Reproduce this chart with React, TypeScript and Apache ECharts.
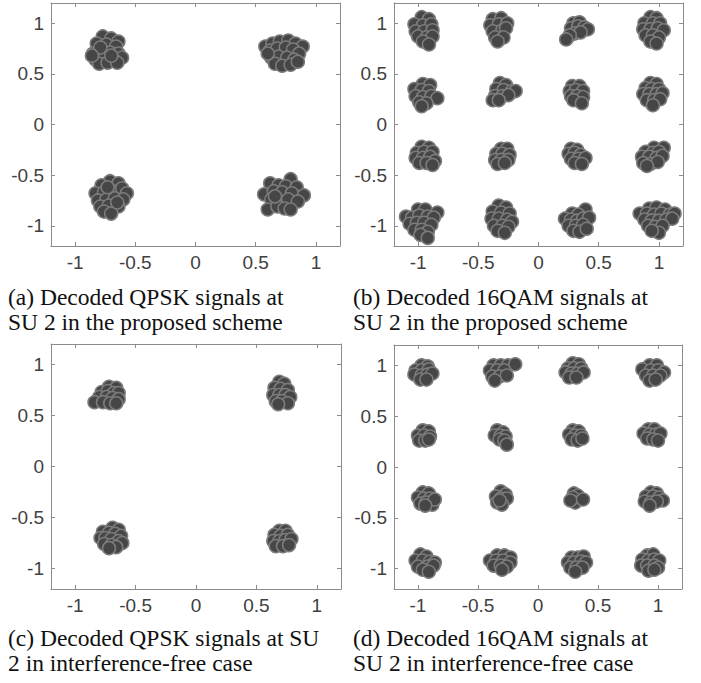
import React, { useEffect, useRef } from "react";
import * as echarts from "echarts";

const TICKS = [-1, -0.5, 0, 0.5, 1];

// (a) QPSK, proposed scheme
const qpskProposed: number[][] = [
  [-0.77, 0.87], [-0.70, 0.85], [-0.64, 0.82], [-0.82, 0.80], [-0.74, 0.79], [-0.66, 0.77], [-0.85, 0.70],
  [-0.78, 0.72], [-0.71, 0.71], [-0.64, 0.70], [-0.61, 0.66], [-0.83, 0.64], [-0.76, 0.65], [-0.68, 0.64],
  [-0.80, 0.60], [-0.73, 0.61], [-0.65, 0.61], [-0.70, 0.68], [-0.79, 0.76], [-0.86, 0.68],
  [0.58, 0.77], [0.64, 0.80], [0.70, 0.82], [0.77, 0.83], [0.83, 0.80], [0.89, 0.77], [0.62, 0.73],
  [0.68, 0.75], [0.75, 0.76], [0.81, 0.74], [0.86, 0.70], [0.63, 0.66], [0.69, 0.67], [0.76, 0.66],
  [0.82, 0.64], [0.66, 0.60], [0.72, 0.58], [0.79, 0.59], [0.85, 0.62], [0.60, 0.70],
  [-0.71, -0.56], [-0.64, -0.58], [-0.78, -0.60], [-0.83, -0.68], [-0.76, -0.67], [-0.69, -0.66], [-0.61, -0.63],
  [-0.57, -0.68], [-0.81, -0.75], [-0.74, -0.74], [-0.67, -0.73], [-0.60, -0.74], [-0.79, -0.81], [-0.72, -0.80],
  [-0.64, -0.81], [-0.76, -0.86], [-0.70, -0.88], [-0.65, -0.77], [-0.73, -0.62],
  [0.79, -0.54], [0.62, -0.58], [0.69, -0.60], [0.75, -0.61], [0.84, -0.62], [0.57, -0.69], [0.65, -0.66],
  [0.72, -0.67], [0.80, -0.68], [0.90, -0.70], [0.63, -0.74], [0.70, -0.76], [0.77, -0.74], [0.85, -0.76],
  [0.60, -0.84], [0.68, -0.81], [0.74, -0.83], [0.79, -0.84], [0.66, -0.71],
];

// (b) 16QAM, proposed scheme
const qam16Proposed: number[][] = [
  [-0.97, 1.06], [-0.91, 1.04], [-1.03, 0.99], [-0.96, 0.98], [-0.89, 0.99], [-1.02, 0.92], [-0.95, 0.92],
  [-0.88, 0.93], [-1.00, 0.87], [-0.93, 0.86], [-0.88, 0.87], [-0.96, 0.82], [-0.91, 0.79],
  [-0.38, 1.04], [-0.31, 1.05], [-0.40, 0.98], [-0.33, 0.99], [-0.26, 1.00], [-0.38, 0.92], [-0.30, 0.93],
  [-0.27, 0.95], [-0.36, 0.86], [-0.29, 0.86], [-0.34, 0.82],
  [0.29, 1.00], [0.34, 1.01], [0.27, 0.95], [0.33, 0.97], [0.38, 0.96], [0.41, 0.94], [0.30, 0.90],
  [0.35, 0.91], [0.26, 0.88], [0.23, 0.84],
  [0.93, 1.06], [0.98, 1.05], [0.88, 1.00], [0.95, 1.00], [1.01, 1.00], [0.87, 0.94], [0.93, 0.94],
  [0.99, 0.95], [1.04, 0.93], [0.89, 0.88], [0.95, 0.88], [1.00, 0.86], [0.93, 0.82], [0.98, 0.80],
  [-0.96, 0.40], [-0.90, 0.39], [-1.03, 0.35], [-0.97, 0.34], [-0.91, 0.33], [-1.02, 0.28], [-0.96, 0.27],
  [-0.89, 0.28], [-0.84, 0.26], [-0.99, 0.22], [-0.93, 0.21], [-0.97, 0.18],
  [-0.32, 0.41], [-0.27, 0.39], [-0.35, 0.35], [-0.29, 0.34], [-0.22, 0.33], [-0.19, 0.33], [-0.36, 0.28],
  [-0.30, 0.28], [-0.25, 0.29], [-0.38, 0.24], [-0.33, 0.24],
  [0.28, 0.38], [0.34, 0.38], [0.26, 0.33], [0.31, 0.34], [0.37, 0.33], [0.27, 0.28], [0.32, 0.28],
  [0.37, 0.27], [0.29, 0.24], [0.36, 0.21],
  [0.93, 0.41], [0.98, 0.40], [0.89, 0.36], [0.94, 0.35], [1.00, 0.35], [0.87, 0.30], [0.92, 0.30],
  [0.98, 0.30], [1.03, 0.31], [0.90, 0.24], [0.96, 0.24], [1.01, 0.25], [0.95, 0.19],
  [-0.97, -0.22], [-0.91, -0.23], [-1.01, -0.28], [-0.95, -0.27], [-0.88, -0.27], [-1.02, -0.33], [-0.96, -0.33],
  [-0.90, -0.32], [-0.86, -0.36], [-0.99, -0.38], [-0.93, -0.38], [-0.88, -0.40],
  [-0.31, -0.24], [-0.26, -0.24], [-0.35, -0.29], [-0.30, -0.29], [-0.24, -0.30], [-0.36, -0.35], [-0.31, -0.35],
  [-0.25, -0.35], [-0.34, -0.39], [-0.28, -0.38],
  [0.27, -0.24], [0.32, -0.25], [0.25, -0.29], [0.30, -0.28], [0.35, -0.30], [0.27, -0.34], [0.33, -0.34],
  [0.39, -0.33], [0.30, -0.38], [0.36, -0.39],
  [0.96, -0.23], [1.04, -0.23], [0.89, -0.27], [0.95, -0.28], [1.00, -0.27], [0.86, -0.32], [0.92, -0.32],
  [0.98, -0.33], [1.03, -0.31], [0.87, -0.38], [0.93, -0.39], [0.99, -0.37], [0.90, -0.41],
  [-1.00, -0.84], [-0.94, -0.84], [-0.84, -0.87], [-1.10, -0.91], [-1.05, -0.92], [-0.99, -0.90], [-0.92, -0.91],
  [-0.87, -0.92], [-1.07, -0.98], [-1.01, -0.97], [-0.95, -0.97], [-0.89, -0.99], [-1.03, -1.04], [-0.97, -1.04],
  [-0.92, -1.06], [-0.98, -1.09], [-0.92, -1.12],
  [-0.33, -0.80], [-0.27, -0.82], [-0.38, -0.86], [-0.31, -0.87], [-0.24, -0.88], [-0.39, -0.93], [-0.33, -0.93],
  [-0.26, -0.94], [-0.22, -0.96], [-0.37, -1.00], [-0.30, -1.00], [-0.25, -1.01], [-0.34, -1.05], [-0.28, -1.07],
  [0.39, -0.84], [0.28, -0.88], [0.33, -0.89], [0.22, -0.93], [0.27, -0.94], [0.32, -0.95], [0.37, -0.93],
  [0.42, -0.92], [0.25, -1.00], [0.31, -1.00], [0.37, -0.99], [0.29, -1.05], [0.34, -1.06], [0.40, -1.03],
  [0.92, -0.83], [0.98, -0.82], [1.05, -0.84], [0.84, -0.88], [0.90, -0.88], [0.96, -0.89], [1.02, -0.88],
  [1.09, -0.89], [1.13, -0.88], [0.88, -0.94], [0.94, -0.95], [1.00, -0.95], [1.06, -0.94], [1.11, -0.93],
  [0.91, -1.00], [0.97, -1.01], [1.03, -1.00], [1.00, -1.07], [0.94, -1.05],
];

// (c) QPSK, interference-free
const qpskFree: number[][] = [
  [-0.72, 0.78], [-0.66, 0.77], [-0.78, 0.73], [-0.73, 0.74], [-0.68, 0.72], [-0.64, 0.72], [-0.80, 0.68],
  [-0.74, 0.68], [-0.69, 0.67], [-0.64, 0.66], [-0.84, 0.63], [-0.77, 0.63], [-0.71, 0.62], [-0.66, 0.62],
  [0.69, 0.83], [0.73, 0.81], [0.65, 0.77], [0.70, 0.76], [0.76, 0.75], [0.64, 0.70], [0.69, 0.70],
  [0.74, 0.70], [0.78, 0.68], [0.66, 0.64], [0.71, 0.64], [0.76, 0.62], [0.68, 0.61],
  [-0.69, -0.60], [-0.64, -0.62], [-0.77, -0.64], [-0.72, -0.65], [-0.67, -0.66], [-0.62, -0.68], [-0.79, -0.70],
  [-0.75, -0.70], [-0.70, -0.71], [-0.64, -0.73], [-0.61, -0.75], [-0.76, -0.76], [-0.70, -0.77], [-0.66, -0.79],
  [-0.72, -0.80],
  [0.69, -0.63], [0.74, -0.63], [0.65, -0.67], [0.70, -0.68], [0.76, -0.67], [0.64, -0.73], [0.69, -0.73],
  [0.74, -0.72], [0.79, -0.71], [0.66, -0.78], [0.72, -0.78], [0.77, -0.77],
];

// (d) 16QAM, interference-free
const qam16Free: number[][] = [
  [-0.97, 1.00], [-0.92, 0.99], [-1.02, 0.95], [-0.97, 0.95], [-0.91, 0.96], [-1.03, 0.91], [-0.97, 0.90],
  [-0.92, 0.91], [-0.88, 0.92], [-0.98, 0.86], [-0.93, 0.86],
  [-0.37, 1.00], [-0.31, 1.00], [-0.25, 1.00], [-0.19, 1.01], [-0.40, 0.95], [-0.34, 0.95], [-0.28, 0.95],
  [-0.38, 0.89], [-0.32, 0.89], [-0.26, 0.90], [-0.36, 0.85],
  [0.29, 1.02], [0.34, 1.01], [0.25, 0.97], [0.30, 0.97], [0.36, 0.97], [0.23, 0.93], [0.28, 0.92],
  [0.33, 0.92], [0.38, 0.93], [0.26, 0.88], [0.32, 0.88],
  [0.93, 1.00], [0.99, 1.00], [0.87, 0.96], [0.94, 0.95], [1.00, 0.95], [1.05, 0.93], [0.90, 0.90],
  [0.96, 0.90], [1.02, 0.90], [0.93, 0.85], [0.98, 0.86],
  [-0.96, 0.36], [-0.91, 0.35], [-1.00, 0.31], [-0.95, 0.31], [-0.90, 0.30], [-0.99, 0.26], [-0.94, 0.26],
  [-0.91, 0.27],
  [-0.34, 0.36], [-0.29, 0.34], [-0.36, 0.31], [-0.31, 0.31], [-0.27, 0.30], [-0.32, 0.27], [-0.28, 0.26],
  [-0.26, 0.22],
  [0.29, 0.36], [0.34, 0.35], [0.26, 0.32], [0.31, 0.31], [0.36, 0.31], [0.28, 0.27], [0.33, 0.26],
  [0.37, 0.28],
  [0.92, 0.37], [0.97, 0.37], [0.88, 0.33], [0.93, 0.32], [0.98, 0.32], [1.02, 0.33], [0.91, 0.28],
  [0.96, 0.27], [1.00, 0.26],
  [-0.96, -0.25], [-0.91, -0.26], [-1.00, -0.30], [-0.95, -0.31], [-0.90, -0.31], [-0.98, -0.36], [-0.93, -0.35],
  [-0.88, -0.37], [-0.86, -0.32], [-0.94, -0.38],
  [-0.31, -0.24], [-0.27, -0.27], [-0.35, -0.29], [-0.31, -0.31], [-0.26, -0.31], [-0.34, -0.35], [-0.30, -0.37],
  [-0.32, -0.33],
  [0.30, -0.26], [0.33, -0.28], [0.29, -0.30], [0.31, -0.35], [0.27, -0.33], [0.375, -0.32],
  [0.94, -0.25], [0.99, -0.26], [0.90, -0.29], [0.96, -0.29], [1.01, -0.30], [1.04, -0.33], [0.89, -0.34],
  [0.94, -0.35], [0.99, -0.34], [0.93, -0.38],
  [-0.98, -0.86], [-0.93, -0.88], [-1.02, -0.92], [-0.96, -0.92], [-0.90, -0.93], [-0.86, -0.94], [-1.00, -0.98],
  [-0.92, -0.98], [-0.87, -0.97], [-0.96, -1.01], [-0.91, -1.03],
  [-0.34, -0.87], [-0.28, -0.87], [-0.23, -0.89], [-0.40, -0.92], [-0.35, -0.92], [-0.29, -0.92], [-0.23, -0.94],
  [-0.37, -0.97], [-0.31, -0.97], [-0.26, -0.98], [-0.30, -1.01],
  [0.28, -0.89], [0.33, -0.89], [0.38, -0.88], [0.25, -0.94], [0.30, -0.94], [0.36, -0.93], [0.40, -0.94],
  [0.27, -0.99], [0.32, -0.99], [0.37, -0.99], [0.31, -1.03],
  [0.91, -0.87], [0.96, -0.86], [0.87, -0.91], [0.92, -0.92], [0.97, -0.91], [1.01, -0.92], [0.86, -0.97],
  [0.91, -0.97], [0.97, -0.97], [1.00, -0.99], [0.92, -1.02], [0.97, -1.01],
];

const CAPTION_LINES_1 = [
  "(a) Decoded QPSK signals at",
  "(b) Decoded 16QAM signals at",
  "(c) Decoded QPSK signals at SU",
  "(d) Decoded 16QAM signals at",
];
const CAPTION_LINES_2 = [
  "SU 2 in the proposed scheme",
  "SU 2 in the proposed scheme",
  "2 in interference-free case",
  "SU 2 in interference-free case",
];

const PANELS = [qpskProposed, qam16Proposed, qpskFree, qam16Free];

const GRIDS = [
  { left: 51, top: 3, width: 289, height: 243 },
  { left: 394, top: 3, width: 289, height: 243 },
  { left: 51, top: 344, width: 290, height: 245 },
  { left: 394, top: 345, width: 288, height: 244 },
];
const CAPTION_POS = [
  { x: 8, y: 297 },
  { x: 353, y: 297 },
  { x: 8, y: 638 },
  { x: 353, y: 638 },
];
const LINE_GAP = 24.5;

const AXIS_COLOR = "#8c8c8c";
const LABEL_COLOR = "#404040";

function makeAxis(gridIndex: number, position: string, showLabel: boolean) {
  return {
    type: "value",
    gridIndex,
    position,
    min: -1.2,
    max: 1.2,
    axisLine: { show: true, onZero: false, lineStyle: { color: AXIS_COLOR, width: 1 } },
    axisTick: {
      show: true,
      inside: true,
      length: 4,
      customValues: TICKS,
      lineStyle: { color: AXIS_COLOR, width: 1 },
    },
    axisLabel: {
      show: showLabel,
      customValues: TICKS,
      color: LABEL_COLOR,
      fontSize: 19,
      fontFamily: "Liberation Sans",
      margin: 7,
    },
    splitLine: { show: false },
  };
}

export default function App() {
  const ref = useRef<HTMLDivElement>(null);
  useEffect(() => {
    document.body.style.margin = "0";
    if (!ref.current) return;
    const chart = echarts.init(ref.current, null, { renderer: "svg" });
    const xAxis: any[] = [];
    const yAxis: any[] = [];
    const series: any[] = [];
    GRIDS.forEach((g, i) => {
      xAxis.push(makeAxis(i, "bottom", true));
      xAxis.push(makeAxis(i, "top", false));
      yAxis.push(makeAxis(i, "left", true));
      yAxis.push(makeAxis(i, "right", false));
      series.push({
        type: "scatter",
        xAxisIndex: i * 2,
        yAxisIndex: i * 2,
        data: PANELS[i],
        symbol: "circle",
        symbolSize: 13,
        itemStyle: { color: "#464646", borderColor: "#7c7c7c", borderWidth: 1.5, opacity: 1 },
        emphasis: { disabled: true },
      });
    });
    const graphic: any[] = [];
    CAPTION_POS.forEach((p, i) => {
      graphic.push({
        type: "text",
        x: p.x,
        y: p.y,
        style: {
          text: CAPTION_LINES_1[i],
          fontSize: 23.5,
          fontFamily: "Liberation Serif",
          fill: "#111111",
          verticalAlign: "middle",
          align: "left",
        },
      });
      graphic.push({
        type: "text",
        x: p.x,
        y: p.y + LINE_GAP,
        style: {
          text: CAPTION_LINES_2[i],
          fontSize: 23.5,
          fontFamily: "Liberation Serif",
          fill: "#111111",
          verticalAlign: "middle",
          align: "left",
        },
      });
    });
    chart.setOption({
      animation: false,
      backgroundColor: "#ffffff",
      grid: GRIDS.map((g) => ({ ...g, containLabel: false, show: false })),
      xAxis,
      yAxis,
      series,
      graphic,
    });
    return () => chart.dispose();
  }, []);
  return <div ref={ref} style={{ width: 701, height: 683, position: "absolute", left: 0, top: 0 }} />;
}
